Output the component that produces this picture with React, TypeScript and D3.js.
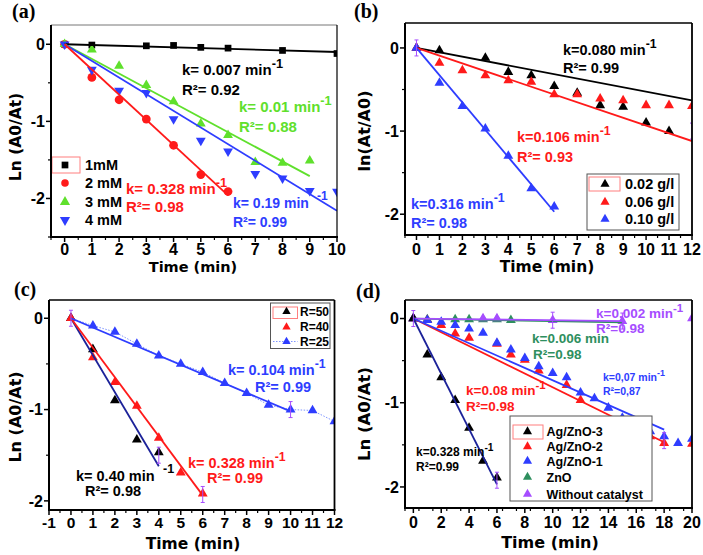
import React from "react";
import * as d3 from "d3";

// ---------------- Panel (a) data ----------------
const a1mMTime = [0, 1, 3, 4, 5, 6, 8, 10];
const a1mM = [0, -0.01, -0.02, -0.015, -0.04, -0.05, -0.08, -0.12];
const a2mMTime = [0, 1, 2, 3, 4, 5, 6];
const a2mM = [0, -0.43, -0.72, -0.97, -1.31, -1.69, -1.91];
const a3mMTime = [0, 1, 2, 3, 4, 5, 6, 7, 8, 9];
const a3mM = [0, -0.07, -0.28, -0.53, -0.74, -1.03, -1.18, -1.53, -1.54, -1.51];
const a4mMTime = [0, 1, 2, 3, 4, 5, 6, 7, 8, 9, 10];
const a4mM = [0, -0.33, -0.6, -0.63, -0.97, -1.25, -1.39, -1.68, -1.74, -1.9, -1.91];
const aFitTime1 = [0, 10];
const aFit1 = [0, -0.1];
const aFitTime2 = [0, 6];
const aFit2 = [0, -1.96];
const aFitTime3 = [0, 9];
const aFit3 = [0, -1.71];
const aFitTime4 = [0, 10];
const aFit4 = [0, -2.16];
const aLegend = ["1mM", "2 mM", "3 mM", "4 mM"];
const aXTicks = [0, 1, 2, 3, 4, 5, 6, 7, 8, 9, 10];
const aYTicks = [0, -1, -2];

// ---------------- Panel (b) data ----------------
const bTime = [0, 1, 3, 4, 5, 6, 7, 8, 9, 10, 11];
const b002 = [0, -0.03, -0.12, -0.29, -0.33, -0.46, -0.54, -0.69, -0.71, -0.9, -1.0];
const bTime006 = [0, 1, 2, 3, 4, 5, 6, 7, 8, 9, 10, 11, 12];
const b006 = [0, -0.18, -0.27, -0.33, -0.39, -0.41, -0.56, -0.56, -0.61, -0.63, -0.69, -0.69, -0.7];
const bTime010 = [0, 1, 2, 3, 4, 5, 6];
const b010 = [0, -0.42, -0.7, -0.97, -1.3, -1.69, -1.91];
const bFitTime1 = [0, 12];
const bFit1 = [0, -0.63];
const bFitTime2 = [0, 12];
const bFit2 = [0, -1.12];
const bFitTime3 = [0, 6];
const bFit3 = [0, -1.97];
const bLegend = ["0.02 g/l", "0.06 g/l", "0.10 g/l"];
const bXTicks = [0, 1, 2, 3, 4, 5, 6, 7, 8, 9, 10, 11, 12];
const bYTicks = [0, -1, -2];

// ---------------- Panel (c) data ----------------
const cTime50 = [0, 1, 2, 3, 4];
const cR50 = [0, -0.34, -0.9, -1.33, -1.47];
const cTime40 = [0, 1, 2, 3, 4, 5, 6];
const cR40 = [0, -0.43, -0.7, -0.96, -1.31, -1.69, -1.92];
const cTime25 = [0, 1, 2, 3, 4, 5, 6, 7, 8, 9, 10, 11, 12];
const cR25 = [0, -0.08, -0.15, -0.28, -0.41, -0.5, -0.59, -0.71, -0.82, -0.95, -1.0, -1.01, -1.13];
const cFitTime1 = [0, 4];
const cFit1 = [0, -1.62];
const cFitTime2 = [0, 6];
const cFit2 = [0, -1.94];
const cFitTime3 = [0, 10];
const cFit3 = [0, -1.02];
const cLegend = ["R=50", "R=40", "R=25"];
const cXTicks = [-1, 0, 1, 2, 3, 4, 5, 6, 7, 8, 9, 10, 11, 12];
const cYTicks = [0, -1, -2];

// ---------------- Panel (d) data ----------------
const dTime3 = [0, 1, 2, 3, 4, 5, 6];
const dAgZnO3 = [0, -0.43, -0.7, -0.97, -1.3, -1.69, -1.89];
const dTime2 = [0, 1, 2, 3, 4, 6, 7, 8, 9, 11, 12, 17, 18, 20];
const dAgZnO2 = [0, -0.02, -0.08, -0.18, -0.23, -0.3, -0.43, -0.49, -0.62, -0.79, -0.97, -1.4, -1.48, -1.49];
const dTime1 = [0, 1, 2, 3, 4, 5, 6, 7, 8, 9, 10, 11, 12, 13, 14, 15, 17, 18, 19, 20];
const dAgZnO1 = [0, -0.02, -0.04, -0.08, -0.12, -0.17, -0.29, -0.37, -0.47, -0.57, -0.65, -0.7, -0.88, -0.95, -1.06, -1.18, -1.34, -1.4, -1.48, -1.43];
const dTimeZnO = [0, 1, 3, 4, 5, 6, 7];
const dZnO = [0, -0.01, -0.01, -0.01, -0.01, -0.01, -0.02];
const dTimeNone = [0, 5, 6, 10, 15, 20];
const dNone = [0, 0, 0, -0.02, -0.03, 0];
const dFitTime3 = [0, 6];
const dFit3 = [0, -1.97];
const dFitTime2 = [0, 18];
const dFit2 = [0, -1.47];
const dFitTime1 = [0, 18];
const dFit1 = [0, -1.32];
const dFitTimeZnO = [0, 15];
const dFitZnO = [0, -0.045];
const dFitTimeNone = [0, 15];
const dFitNone = [0, -0.03];
const dLegend = ["Ag/ZnO-3", "Ag/ZnO-2", "Ag/ZnO-1", "ZnO", "Without catalyst"];
const dXTicks = [0, 2, 4, 6, 8, 10, 12, 14, 16, 18, 20];
const dYTicks = [0, -1, -2];

// ---------------- styling ----------------
const RED = "#ff1a1a";
const BLUE = "#2e3dff";
const GREEN = "#5fe02c";
const TEAL = "#2e8f5e";
const PURPLE = "#a64dff";
const NAVY = "#1c2299";
const BLACK = "#000000";
const TICKFONT = "'Liberation Sans', Arial, sans-serif";
const TITLEFONT = "'DejaVu Sans', sans-serif";
const TXTFONT = "'Liberation Sans', Arial, sans-serif";

type Shape = "square" | "circle" | "up" | "down";
interface Ser { xs: number[]; ys: number[]; color: string; shape: Shape; size: number; connect?: boolean }
interface Fit { xs: number[]; ys: number[]; color: string }
interface Txt { t: string; sup?: string; x: number; y: number; color: string; size: number }
interface Leg {
  labels: string[]; colors: string[]; shapes: Shape[]; dotted?: boolean[];
  symX: number; textX: number; ys: number[]; size: number; symSize: number;
  box?: [number, number, number, number]; redBox: [number, number, number, number];
}
interface PanelCfg {
  tag: string; tagX: number; tagY: number;
  xd: [number, number]; xr: [number, number]; yd: [number, number]; yr: [number, number];
  xTicks: number[]; xMinorStep: number; yTicks: number[]; tickSize: number;
  xTitle: string; xTitleX: number; xTitleY: number; xTitleSize: number; xTickY: number;
  yTitle: string; yTitleX: number; yTitleCY: number; yTitleSize: number;
  series: Ser[]; fits: Fit[]; texts: Txt[]; legend: Leg; errs: [number, number][];
  thinTop?: boolean; id: string;
}

function symPath(shape: Shape, size: number): string {
  const t = shape === "square" ? d3.symbolSquare : shape === "circle" ? d3.symbolCircle : d3.symbolTriangle;
  return d3.symbol().type(t).size(size)() || "";
}

function Marker({ shape, size, color, x, y }: { shape: Shape; size: number; color: string; x: number; y: number }) {
  const rot = shape === "down" ? " rotate(180)" : "";
  return <path d={symPath(shape, size)} transform={`translate(${x},${y})${rot}`} fill={color} />;
}

function Panel({ c }: { c: PanelCfg }) {
  const x = d3.scaleLinear().domain(c.xd).range(c.xr);
  const y = d3.scaleLinear().domain(c.yd).range(c.yr);
  const [x0, x1] = c.xr;
  const [y0, y1] = c.yr;
  const minorX = d3.range(c.xd[0], c.xd[1] + 1e-9, c.xMinorStep).filter((v) => !c.xTicks.includes(v));
  const minorY = d3.range(Math.ceil(c.yd[1] * 2) / 2, c.yd[0] + 1e-9, 0.5).filter((v) => !c.yTicks.includes(v));
  const line = d3.line<[number, number]>().x((d) => x(d[0])).y((d) => y(d[1]));
  const L = c.legend;
  return (
    <g>
      <defs>
        <clipPath id={`clip-${c.id}`}>
          <rect x={x0} y={y0} width={x1 - x0} height={y1 - y0} />
        </clipPath>
      </defs>
      <g clipPath={`url(#clip-${c.id})`}>
        {c.series.filter((s) => s.connect).map((s, i) => (
          <path key={`c${i}`} d={line(s.xs.map((v, j) => [v, s.ys[j]]) as [number, number][]) || ""} fill="none" stroke="#7f95ff" strokeWidth={1} strokeDasharray="1.5,1.5" />
        ))}
        {c.series.map((s, i) => (
          <g key={`s${i}`}>
            {s.xs.map((v, j) => (
              <Marker key={j} shape={s.shape} size={s.size} color={s.color} x={x(v)} y={y(s.ys[j])} />
            ))}
          </g>
        ))}
        {c.fits.map((f, i) => (
          <path key={`f${i}`} d={line(f.xs.map((v, j) => [v, f.ys[j]]) as [number, number][]) || ""} fill="none" stroke={f.color} strokeWidth={1.8} />
        ))}
        {c.errs.map((e, i) => (
          <g key={`e${i}`} stroke={PURPLE} strokeWidth={1}>
            <line x1={x(e[0])} x2={x(e[0])} y1={y(e[1]) - 8} y2={y(e[1]) + 8} />
            <line x1={x(e[0]) - 2} x2={x(e[0]) + 2} y1={y(e[1]) - 8} y2={y(e[1]) - 8} />
            <line x1={x(e[0]) - 2} x2={x(e[0]) + 2} y1={y(e[1]) + 8} y2={y(e[1]) + 8} />
          </g>
        ))}
      </g>
      {/* legend */}
      {L.box && <rect x={L.box[0]} y={L.box[1]} width={L.box[2]} height={L.box[3]} fill="#fff" stroke="#555" strokeWidth={1} />}
      <rect x={L.redBox[0]} y={L.redBox[1]} width={L.redBox[2]} height={L.redBox[3]} fill="none" stroke="#ff7f7f" strokeWidth={1} />
      {L.labels.map((lab, i) => (
        <g key={`l${i}`}>
          {L.dotted && L.dotted[i] && (
            <line x1={L.redBox[0]} x2={L.redBox[0] + L.redBox[2]} y1={L.ys[i]} y2={L.ys[i]} stroke="#7f95ff" strokeWidth={1} strokeDasharray="1.5,1.5" />
          )}
          <Marker shape={L.shapes[i]} size={L.symSize} color={L.colors[i]} x={L.symX} y={L.ys[i]} />
          <text x={L.textX} y={L.ys[i]} dy="0.36em" fontFamily={TXTFONT} fontWeight="bold" fontSize={L.size} fill="#000">{lab}</text>
        </g>
      ))}
      {/* annotations */}
      {c.texts.map((t, i) => (
        <text key={`t${i}`} x={t.x} y={t.y} fontFamily={TXTFONT} fontWeight="bold" fontSize={t.size} fill={t.color}>
          {t.t}
          {t.sup && <tspan dy={-t.size * 0.45} fontSize={t.size * 0.85}>{t.sup}</tspan>}
        </text>
      ))}
      {/* frame */}
      <line x1={x0} x2={x1} y1={y0} y2={y0} stroke={c.thinTop ? "#777" : "#000"} strokeWidth={c.thinTop ? 1 : 1.6} />
      <line x1={x1} x2={x1} y1={y0} y2={y1} stroke="#000" strokeWidth={c.thinTop ? 1.2 : 1.8} />
      <line x1={x0} x2={x1 + 1} y1={y1} y2={y1} stroke="#000" strokeWidth={2} />
      <line x1={x0} x2={x0} y1={y0} y2={y1 + 1} stroke="#000" strokeWidth={2} />
      {/* x ticks */}
      {c.xTicks.map((v) => (
        <g key={`xt${v}`}>
          <line x1={x(v)} x2={x(v)} y1={y1} y2={y1 + 5} stroke="#000" strokeWidth={1.5} />
          <text x={x(v)} y={c.xTickY} textAnchor="middle" fontFamily={TICKFONT} fontWeight="bold" fontSize={c.tickSize} fill="#000">{v}</text>
        </g>
      ))}
      {minorX.map((v) => (
        <line key={`xm${v}`} x1={x(v)} x2={x(v)} y1={y1} y2={y1 + 3} stroke="#000" strokeWidth={1.2} />
      ))}
      {c.yTicks.map((v) => (
        <g key={`yt${v}`}>
          <line x1={x0} x2={x0 - 5} y1={y(v)} y2={y(v)} stroke="#000" strokeWidth={1.5} />
          <text x={x0 - 6} y={y(v)} dy="0.36em" textAnchor="end" fontFamily={TICKFONT} fontWeight="bold" fontSize={16} fill="#000">{v}</text>
        </g>
      ))}
      {minorY.map((v) => (
        <line key={`ym${v}`} x1={x0} x2={x0 - 3} y1={y(v)} y2={y(v)} stroke="#000" strokeWidth={1.2} />
      ))}
      {/* titles */}
      <text x={c.xTitleX} y={c.xTitleY} textAnchor="middle" fontFamily={TITLEFONT} fontWeight="bold" fontSize={c.xTitleSize} fill="#000">{c.xTitle}</text>
      <text transform={`translate(${c.yTitleX},${c.yTitleCY}) rotate(-90)`} textAnchor="middle" fontFamily={TITLEFONT} fontWeight="bold" fontSize={c.yTitleSize} fill="#000">{c.yTitle}</text>
      <text x={c.tagX} y={c.tagY} fontFamily="'Liberation Serif', 'Times New Roman', serif" fontWeight="bold" fontSize={20} fill="#000">{c.tag}</text>
    </g>
  );
}

const TRI = 42;

const panelA: PanelCfg = {
  id: "a", tag: "(a)", tagX: 12, tagY: 18, thinTop: true,
  xd: [-0.5, 10], xr: [51, 337], yd: [0.25, -2.5], yr: [25, 237],
  xTicks: aXTicks, xMinorStep: 0.5, yTicks: aYTicks, tickSize: 16,
  xTitle: "Time (min)", xTitleX: 193, xTitleY: 272, xTitleSize: 14.5, xTickY: 255,
  yTitle: "Ln (A0/At)", yTitleX: 21, yTitleCY: 137, yTitleSize: 15.5,
  series: [
    { xs: a1mMTime, ys: a1mM, color: BLACK, shape: "square", size: 45 },
    { xs: a2mMTime, ys: a2mM, color: RED, shape: "circle", size: 60 },
    { xs: a3mMTime, ys: a3mM, color: GREEN, shape: "up", size: TRI },
    { xs: a4mMTime, ys: a4mM, color: BLUE, shape: "down", size: TRI },
  ],
  fits: [
    { xs: aFitTime1, ys: aFit1, color: BLACK },
    { xs: aFitTime3, ys: aFit3, color: GREEN },
    { xs: aFitTime4, ys: aFit4, color: BLUE },
    { xs: aFitTime2, ys: aFit2, color: RED },
  ],
  texts: [
    { t: "k= 0.007 min", sup: "-1", x: 182, y: 75, color: BLACK, size: 15 },
    { t: "R²= 0.92", x: 182, y: 95, color: BLACK, size: 15 },
    { t: "k= 0.01 min", sup: "-1", x: 239, y: 112, color: GREEN, size: 15 },
    { t: "R²= 0.88", x: 239, y: 132, color: GREEN, size: 15 },
    { t: "k= 0.328 min", sup: "-1", x: 126, y: 194, color: RED, size: 15 },
    { t: "R²= 0.98", x: 126, y: 212, color: RED, size: 15 },
    { t: "k= 0.19 min", x: 233, y: 208, color: BLUE, size: 14 },
    { t: "-1", x: 317, y: 200, color: BLUE, size: 12 },
    { t: "R²= 0.99", x: 233, y: 227, color: BLUE, size: 14 },
  ],
  legend: {
    labels: aLegend, colors: [BLACK, RED, GREEN, BLUE], shapes: ["square", "circle", "up", "down"],
    symX: 65, textX: 85, ys: [165, 183, 202, 220], size: 14.5, symSize: 45,
    redBox: [52, 157, 28, 16],
  },
  errs: [],
};

const panelB: PanelCfg = {
  id: "b", tag: "(b)", tagX: 354, tagY: 18,
  xd: [-0.5, 12], xr: [405, 692], yd: [0.3, -2.25], yr: [23, 235],
  xTicks: bXTicks, xMinorStep: 0.5, yTicks: bYTicks, tickSize: 16,
  xTitle: "Time (min)", xTitleX: 547, xTitleY: 272, xTitleSize: 15.5, xTickY: 255,
  yTitle: "ln(At/A0)", yTitleX: 370, yTitleCY: 131, yTitleSize: 16,
  series: [
    { xs: bTime, ys: b002, color: BLACK, shape: "up", size: TRI },
    { xs: bTime006, ys: b006, color: RED, shape: "up", size: TRI },
    { xs: bTime010, ys: b010, color: BLUE, shape: "up", size: TRI },
  ],
  fits: [
    { xs: bFitTime1, ys: bFit1, color: BLACK },
    { xs: bFitTime2, ys: bFit2, color: RED },
    { xs: bFitTime3, ys: bFit3, color: BLUE },
  ],
  texts: [
    { t: "k=0.080 min", sup: "-1", x: 563, y: 55, color: BLACK, size: 14.5 },
    { t: "R²= 0.99", x: 563, y: 73, color: BLACK, size: 14.5 },
    { t: "k=0.106 min", sup: "-1", x: 517, y: 142, color: RED, size: 14.5 },
    { t: "R²= 0.93", x: 517, y: 162, color: RED, size: 14.5 },
    { t: "k=0.316 min", sup: "-1", x: 411, y: 209, color: BLUE, size: 14.5 },
    { t: "R²= 0.98", x: 411, y: 228, color: BLUE, size: 14.5 },
  ],
  legend: {
    labels: bLegend, colors: [BLACK, RED, BLUE], shapes: ["up", "up", "up"],
    symX: 605, textX: 625, ys: [184, 202, 219], size: 14.5, symSize: 36,
    box: [587, 174, 92, 56], redBox: [589, 177, 31, 14],
  },
  errs: [[0, 0], [12, -1.0]],
};

const panelC: PanelCfg = {
  id: "c", tag: "(c)", tagX: 14, tagY: 296,
  xd: [-1, 12], xr: [49, 334.5], yd: [0.2, -2.1], yr: [300, 510],
  xTicks: cXTicks, xMinorStep: 0.5, yTicks: cYTicks, tickSize: 15.5,
  xTitle: "Time (min)", xTitleX: 193, xTitleY: 549, xTitleSize: 15.5, xTickY: 528,
  yTitle: "Ln (A0/At)", yTitleX: 21, yTitleCY: 417, yTitleSize: 16,
  series: [
    { xs: cTime25, ys: cR25, color: BLUE, shape: "up", size: TRI, connect: true },
    { xs: cTime50, ys: cR50, color: BLACK, shape: "up", size: TRI },
    { xs: cTime40, ys: cR40, color: RED, shape: "up", size: TRI },
  ],
  fits: [
    { xs: cFitTime1, ys: cFit1, color: NAVY },
    { xs: cFitTime2, ys: cFit2, color: RED },
    { xs: cFitTime3, ys: cFit3, color: BLUE },
  ],
  texts: [
    { t: "k= 0.104 min", sup: "-1", x: 228, y: 375, color: BLUE, size: 14.5 },
    { t: "R²= 0.99", x: 255, y: 392, color: BLUE, size: 14.5 },
    { t: "k= 0.328 min", sup: "-1", x: 188, y: 468, color: RED, size: 14.5 },
    { t: "R²= 0.99", x: 207, y: 483, color: RED, size: 14.5 },
    { t: "k= 0.40 min", x: 76, y: 481, color: BLACK, size: 14.5 },
    { t: "-1", x: 163, y: 473, color: BLACK, size: 12.5 },
    { t: "R²= 0.98", x: 85, y: 496, color: BLACK, size: 14.5 },
  ],
  legend: {
    labels: cLegend, colors: [BLACK, RED, BLUE], shapes: ["up", "up", "up"], dotted: [false, false, true],
    symX: 286.5, textX: 300, ys: [311.5, 327, 341.5], size: 12, symSize: 30,
    box: [270.5, 303, 59.5, 45.5], redBox: [273, 307, 24.5, 11.5],
  },
  errs: [[0, 0], [4, -1.5], [6, -1.93], [10, -1.0]],
};

const panelD: PanelCfg = {
  id: "d", tag: "(d)", tagX: 356, tagY: 298,
  xd: [-0.6, 20], xr: [405, 692], yd: [0.22, -2.25], yr: [300, 508],
  xTicks: dXTicks, xMinorStep: 1, yTicks: dYTicks, tickSize: 16,
  xTitle: "Time (min)", xTitleX: 550, xTitleY: 548, xTitleSize: 16, xTickY: 528,
  yTitle: "Ln (A0/At)", yTitleX: 370, yTitleCY: 414, yTitleSize: 16.5,
  series: [
    { xs: dTimeZnO, ys: dZnO, color: TEAL, shape: "up", size: TRI },
    { xs: dTimeNone, ys: dNone, color: PURPLE, shape: "up", size: TRI },
    { xs: dTime2, ys: dAgZnO2, color: RED, shape: "up", size: TRI },
    { xs: dTime1, ys: dAgZnO1, color: BLUE, shape: "up", size: TRI },
    { xs: dTime3, ys: dAgZnO3, color: BLACK, shape: "up", size: TRI },
  ],
  fits: [
    { xs: dFitTimeZnO, ys: dFitZnO, color: TEAL },
    { xs: dFitTimeNone, ys: dFitNone, color: PURPLE },
    { xs: dFitTime2, ys: dFit2, color: RED },
    { xs: dFitTime1, ys: dFit1, color: BLUE },
    { xs: dFitTime3, ys: dFit3, color: NAVY },
  ],
  texts: [
    { t: "k=0.002 min", sup: "-1", x: 596, y: 318, color: PURPLE, size: 13.5 },
    { t: "R²=0.98", x: 596, y: 333, color: PURPLE, size: 13.5 },
    { t: "k=0.006 min", x: 532, y: 343, color: TEAL, size: 13.5 },
    { t: "R²=0.98", x: 533, y: 359, color: TEAL, size: 13.5 },
    { t: "k=0,07 min", sup: "-1", x: 603, y: 381, color: BLUE, size: 10.5 },
    { t: "R²=0,87", x: 603, y: 395, color: BLUE, size: 10.5 },
    { t: "k=0.08 min", sup: "-1", x: 466, y: 395, color: RED, size: 13.5 },
    { t: "R²=0.98", x: 466, y: 411, color: RED, size: 13.5 },
    { t: "k=0.328 min", sup: "-1", x: 416, y: 456, color: BLACK, size: 12 },
    { t: "R²=0.99", x: 416, y: 471, color: BLACK, size: 12 },
  ],
  legend: {
    labels: dLegend, colors: [BLACK, RED, BLUE, TEAL, PURPLE], shapes: ["up", "up", "up", "up", "up"],
    symX: 527.5, textX: 546.5, ys: [431.5, 446.5, 461, 477, 494], size: 12.5, symSize: 36,
    box: [510, 416, 142, 85], redBox: [513, 425, 30, 14],
  },
  errs: [[0, 0], [6, -1.92], [10, -0.02], [15, -0.03], [18, -1.45]],
};

export default function App() {
  return (
    <svg width={703} height={555} viewBox="0 0 703 555" style={{ position: "absolute", left: 0, top: 0, background: "#fff" }}>
      <rect x={0} y={0} width={703} height={555} fill="#fff" />
      <Panel c={panelA} />
      <Panel c={panelB} />
      <Panel c={panelC} />
      <Panel c={panelD} />
    </svg>
  );
}
